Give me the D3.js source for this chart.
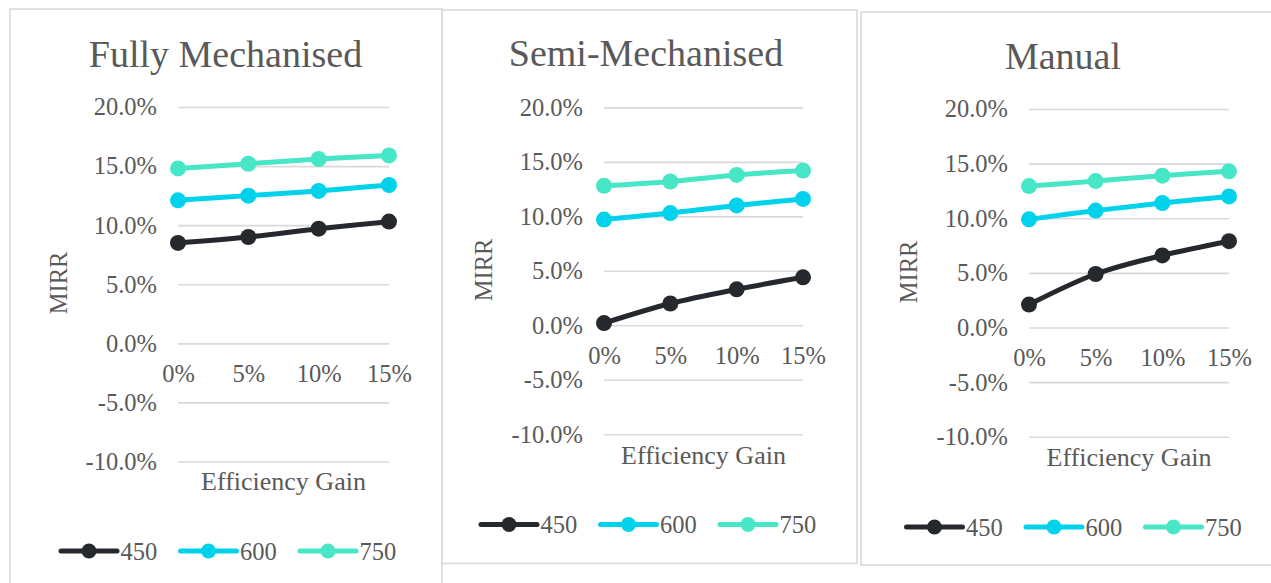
<!DOCTYPE html>
<html>
<head>
<meta charset="utf-8">
<script src="https://cdn.jsdelivr.net/npm/d3@7"></script>
<style>
  html, body { margin: 0; padding: 0; background: #ffffff; }
  svg { display: block; }
  text { font-family: "Liberation Serif", "Times New Roman", serif; fill: #595959; }
</style>
</head>
<body>
<svg id="chart" width="1271" height="583"></svg>
<script>
// Efficiency gain categories on the x axis
const gains = ["0%", "5%", "10%", "15%"];
// MIRR tick values (percent)
const yTicks = [-10, -5, 0, 5, 10, 15, 20];
// Series names (legend)
const seriesNames = ["450", "600", "750"];
const seriesColors = ["#25282c", "#00d2ec", "#47e6c6"];
const panelTitles = ["Fully Mechanised", "Semi-Mechanised", "Manual"];

// MIRR values in percent, one array per series and panel
const fully450 = [8.5, 9.0, 9.7, 10.3];
const fully600 = [12.1, 12.5, 12.9, 13.4];
const fully750 = [14.8, 15.2, 15.6, 15.9];

const semi450 = [0.2, 2.0, 3.3, 4.4];
const semi600 = [9.7, 10.3, 11.0, 11.6];
const semi750 = [12.8, 13.2, 13.8, 14.2];

const manual450 = [2.1, 4.9, 6.6, 7.9];
const manual600 = [9.9, 10.7, 11.4, 12.0];
const manual750 = [12.95, 13.4, 13.9, 14.3];

const panelSeries = [
  [fully450, fully600, fully750],
  [semi450, semi600, semi750],
  [manual450, manual600, manual750]
];

// Layout of each chart box
const layouts = [
  { box: [10, 9, 442, 600], x0: 178, x1: 389, yTop: 107, yBot: 461.5,
    title: [225.5, 66.5], xTitle: [283.5, 490], yTitle: [67, 283], legendY: 551, legendX: 61 },
  { box: [442, 10, 857, 563.5], x0: 604, x1: 803, yTop: 107.4, yBot: 434.2,
    title: [646, 66], xTitle: [703.5, 463.5], yTitle: [492, 270], legendY: 524.5, legendX: 481 },
  { box: [861, 12, 1280, 565], x0: 1029, x1: 1229, yTop: 109, yBot: 436.8,
    title: [1063, 69], xTitle: [1129, 465.5], yTitle: [917, 272], legendY: 527, legendX: 906.5 }
];

const svg = d3.select("#chart");
const grid = "#d9d9d9";

layouts.forEach((L, p) => {
  const g = svg.append("g");

  // chart area border
  g.append("rect")
    .attr("x", L.box[0]).attr("y", L.box[1])
    .attr("width", L.box[2] - L.box[0]).attr("height", L.box[3] - L.box[1])
    .attr("fill", "#ffffff").attr("stroke", grid).attr("stroke-width", 1.6);

  const x = d3.scalePoint().domain(gains).range([L.x0, L.x1]);
  const y = d3.scaleLinear().domain([-10, 20]).range([L.yBot, L.yTop]);

  // value axis with gridlines
  const yAxis = d3.axisLeft(y)
    .tickValues(yTicks)
    .tickSize(-(L.x1 - L.x0))
    .tickPadding(21)
    .tickFormat(d => d.toFixed(1) + "%");
  const ya = g.append("g").attr("transform", `translate(${L.x0},0)`).call(yAxis);
  ya.select(".domain").remove();
  ya.selectAll("line").attr("stroke", grid).attr("stroke-width", 1.6);
  ya.selectAll("text")
    .attr("fill", "#595959").attr("font-size", 24.5)
    .attr("font-family", "Liberation Serif");

  // category axis crossing at 0%
  const xAxis = d3.axisBottom(x).tickSize(0).tickPadding(21);
  const xa = g.append("g").attr("transform", `translate(0,${y(0)})`).call(xAxis);
  xa.select(".domain").remove();
  xa.selectAll("text")
    .attr("fill", "#595959").attr("font-size", 24.5)
    .attr("font-family", "Liberation Serif");

  // titles
  g.append("text").attr("x", L.title[0]).attr("y", L.title[1])
    .attr("text-anchor", "middle").attr("font-size", 38)
    .text(panelTitles[p]);
  g.append("text").attr("x", L.xTitle[0]).attr("y", L.xTitle[1])
    .attr("text-anchor", "middle").attr("font-size", 26)
    .text("Efficiency Gain");
  g.append("text")
    .attr("transform", `translate(${L.yTitle[0]},${L.yTitle[1]}) rotate(-90)`)
    .attr("text-anchor", "middle").attr("font-size", 24.5)
    .text("MIRR");

  // series lines and markers
  const line = d3.line()
    .x((d, i) => x(gains[i]))
    .y(d => y(d))
    .curve(d3.curveCatmullRom.alpha(0.5));

  panelSeries[p].forEach((vals, s) => {
    g.append("path").datum(vals)
      .attr("d", line)
      .attr("fill", "none")
      .attr("stroke", seriesColors[s])
      .attr("stroke-width", 5)
      .attr("stroke-linecap", "round")
      .attr("stroke-linejoin", "round");
    g.selectAll(null).data(vals).enter().append("circle")
      .attr("cx", (d, i) => x(gains[i]))
      .attr("cy", d => y(d))
      .attr("r", 8)
      .attr("fill", seriesColors[s]);
  });

  // legend
  const lg = g.append("g").attr("transform", `translate(${L.legendX},${L.legendY})`);
  seriesNames.forEach((name, s) => {
    const item = lg.append("g").attr("transform", `translate(${s * 119.5},0)`);
    item.append("line").attr("x1", 0).attr("x2", 56).attr("y1", 0).attr("y2", 0)
      .attr("stroke", seriesColors[s]).attr("stroke-width", 5)
      .attr("stroke-linecap", "round");
    item.append("circle").attr("cx", 28).attr("cy", 0).attr("r", 7.5)
      .attr("fill", seriesColors[s]);
    item.append("text").attr("x", 59.5).attr("y", 0).attr("dy", "0.35em")
      .attr("font-size", 24.5).text(name);
  });
});
</script>
</body>
</html>
